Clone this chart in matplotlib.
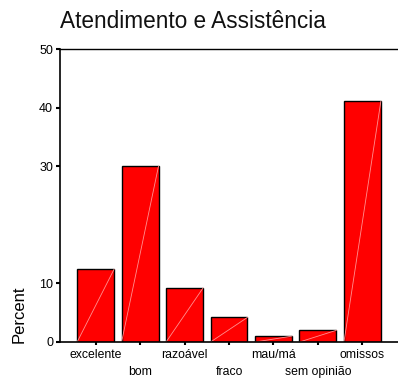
import matplotlib
matplotlib.use('Agg')
from matplotlib import pyplot as plt
import numpy as np

plt.rcParams['font.family'] = ['Liberation Sans', 'DejaVu Sans']

categories = ['excelente', 'bom', 'razoável', 'fraco', 'mau/má', 'sem opinião', 'omissos']
percent = [12.4, 30.0, 9.2, 4.2, 1.0, 2.0, 41.1]
yticks = [0, 10, 30, 40, 50]

fig = plt.figure(figsize=(3.98, 3.81), dpi=100)
ax = fig.add_axes([60/398, 39/381, 338/398, 293/381])

x = np.arange(len(categories))
width = 0.83
ax.bar(x, percent, width=width, color='#ff0000', edgecolor='black', linewidth=1.0)
# faint diagonal inside each bar
for xi, p in zip(x, percent):
    ax.plot([xi - width/2, xi + width/2], [0, p], color='#ff9090', linewidth=0.6)

ax.set_xlim(-0.8, 6.8)
ax.set_ylim(0, 50)
ax.set_yticks(yticks)
# alternate label rows: even on major ticks, odd on minor ticks pushed lower
ax.set_xticks(x[::2])
ax.set_xticklabels(categories[::2], fontsize=8.8)
ax.set_xticks(x[1::2], minor=True)
ax.set_xticklabels(categories[1::2], minor=True, fontsize=8.8)
ax.tick_params(axis='y', labelsize=9, length=3, width=1.5, pad=2)
ax.tick_params(axis='x', which='major', length=2, width=1.5, pad=3)
ax.tick_params(axis='x', which='minor', length=2, width=1.5, pad=15.5)
ax.spines['right'].set_visible(False)
ax.spines['left'].set_linewidth(1.2)
ax.spines['bottom'].set_linewidth(1.2)
ax.spines['top'].set_linewidth(1.0)
ax.set_ylabel('Percent', fontsize=12)
ax.yaxis.set_label_coords(-0.10, -0.004)
ax.yaxis.label.set_verticalalignment('bottom')
ax.yaxis.label.set_horizontalalignment('left')

fig.text(60/398, 1 - 21/381, 'Atendimento e Assistência', fontsize=16.3, va='center', ha='left',
         color='#111111')

plt.savefig('out.png', dpi=100)
